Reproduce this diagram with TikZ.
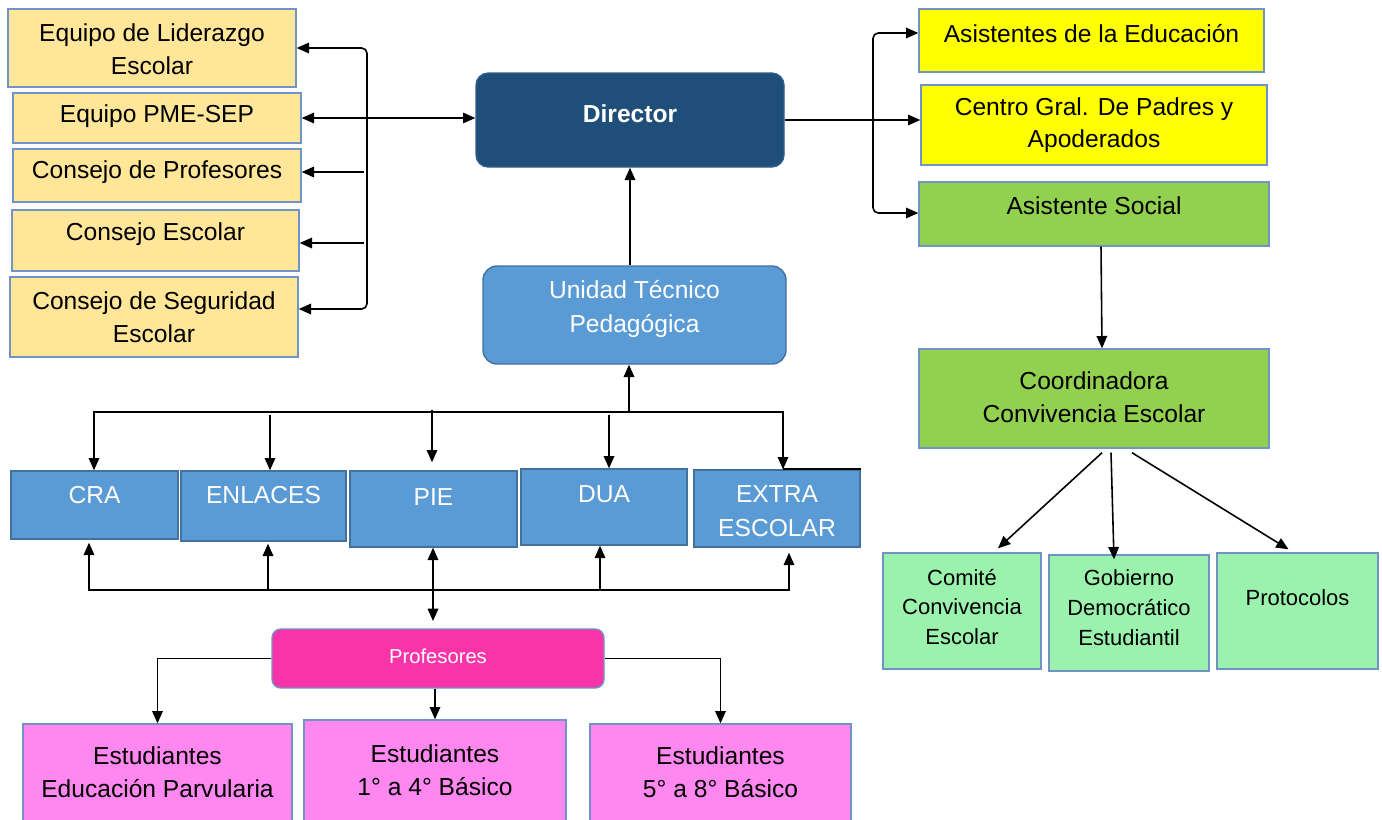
\documentclass[tikz,border=0pt]{standalone}
\usepackage{fontspec}
\setmainfont{Liberation Sans}
\usetikzlibrary{arrows.meta,calc}
\definecolor{lorange}{HTML}{FFE699}
\definecolor{bord}{HTML}{7193C6}
\definecolor{dirblue}{HTML}{1F4E79}
\definecolor{dirbord}{HTML}{2E5E8E}
\definecolor{midblue}{HTML}{5B9BD5}
\definecolor{midbord}{HTML}{41719C}
\definecolor{yel}{HTML}{FFFF00}
\definecolor{grn}{HTML}{92D050}
\definecolor{lgrn}{HTML}{9AF2AD}
\definecolor{profpink}{HTML}{F834A8}
\definecolor{estpink}{HTML}{FF88F0}
\newcommand\orgbox[8]{%
  \node[#1, minimum width={(#5-#3)*0.02cm}, minimum height={(#6-#4)*0.02cm}] (#2) at ({(#3+#5)/2},{(#4+#6)/2}) {};
  \node[#1 txt] (#2t) at ({(#3+#5)/2},#7) {#8};
}
\begin{document}
\begin{tikzpicture}[x=0.02cm,y=-0.02cm,
  base/.style={inner sep=0pt, line width=0.8pt},
  basetxt/.style={inner sep=0pt, align=center, font=\fontsize{14}{18.5}\selectfont},
  lbox/.style={base, fill=lorange, draw=bord},
  lbox txt/.style={basetxt},
  dbox/.style={base, fill=dirblue, draw=dirbord, rounded corners=7pt},
  dbox txt/.style={basetxt, text=white, font=\fontsize{14}{18.5}\selectfont\bfseries},
  ubox/.style={base, fill=midblue, draw=midbord, rounded corners=8pt},
  ubox txt/.style={basetxt, text=white, font=\fontsize{14}{19.5}\selectfont},
  rbox/.style={base, fill=midblue, draw=midbord},
  rbox txt/.style={basetxt, text=white, font=\fontsize{14}{19.5}\selectfont},
  ybox/.style={base, fill=yel, draw=bord},
  ybox txt/.style={basetxt},
  gbox/.style={base, fill=grn, draw=bord},
  gbox txt/.style={basetxt},
  lgbox/.style={base, fill=lgrn, draw=bord},
  lgbox txt/.style={basetxt, font=\fontsize{12.5}{17}\selectfont},
  pbox/.style={base, fill=profpink, draw=bord, rounded corners=5pt},
  pbox txt/.style={basetxt, text=white, font=\fontsize{11.5}{14}\selectfont},
  ebox/.style={base, fill=estpink, draw=bord},
  ebox txt/.style={basetxt},
  conn/.style={line width=0.9pt, draw=black},
  arr/.style={conn, -{Triangle[length=7pt,width=6pt]}},
  darr/.style={conn, {Triangle[length=7pt,width=6pt]}-{Triangle[length=7pt,width=6pt]}}
]
\useasboundingbox (0,0) rectangle (1382,819);
% left column
\orgbox{lbox}{lid}{8}{9}{296}{87}{49}{Equipo de Liderazgo\\Escolar}
\orgbox{lbox}{pme}{13}{93}{301}{143}{116}{Equipo PME-SEP}
\orgbox{lbox}{prof}{13}{149}{301}{202}{172}{Consejo de Profesores}
\orgbox{lbox}{cesc}{12}{210}{299}{271}{234}{Consejo Escolar}
\orgbox{lbox}{cseg}{10}{277}{298}{357}{317}{Consejo de Seguridad\\Escolar}
% centre
\orgbox{dbox}{dir}{476}{73}{784}{167}{114}{Director}
\orgbox{ubox}{utp}{483}{266}{786}{364}{309}{Unidad Técnico\\Pedagógica}
% right column
\orgbox{ybox}{ase}{919}{9}{1264}{72}{34}{Asistentes de la Educación}
\orgbox{ybox}{cgp}{921}{85}{1267}{165}{125}{Centro Gral. De Padres y\\Apoderados}
\orgbox{gbox}{asoc}{919}{182}{1269}{246}{206}{Asistente Social}
\orgbox{gbox}{coord}{919}{349}{1269}{448}{397}{Coordinadora\\Convivencia Escolar}
\orgbox{lgbox}{comite}{883}{553}{1041}{669}{607}{Comité\\Convivencia\\Escolar}
\orgbox{lgbox}{gob}{1049}{555}{1209}{671}{608}{Gobierno\\Democrático\\Estudiantil}
\orgbox{lgbox}{proto}{1217}{553}{1378}{669}{598}{Protocolos}
% row
\orgbox{rbox}{cra}{11}{471}{178}{539}{495}{CRA}
\orgbox{rbox}{enl}{181}{471}{346}{541}{495}{ENLACES}
\orgbox{rbox}{pie}{350}{471}{517}{547}{497}{PIE}
\orgbox{rbox}{dua}{521}{469}{687}{545}{494}{DUA}
\orgbox{rbox}{extra}{694}{470}{860}{547}{511}{EXTRA\\ESCOLAR}
% bottom
\orgbox{pbox}{profs}{272}{629}{604}{688}{656}{Profesores}
\orgbox{ebox}{est1}{23}{724}{292}{822}{772}{Estudiantes\\Educación Parvularia}
\orgbox{ebox}{est2}{304}{720}{566}{822}{770}{Estudiantes\\1° a 4° Básico}
\orgbox{ebox}{est3}{590}{724}{851}{822}{772}{Estudiantes\\5° a 8° Básico}

% left bracket
\coordinate (lbT) at (367,48);
\coordinate (lbB) at (367,309);
\draw[darr, rounded corners=3pt] (lid.east |- lbT) -- (lbT) -- (lbB) -- (cseg.east |- lbB);
\draw[darr] (pme.east) -- (pme.east -| dir.west);
\coordinate (cpA) at (364,172);
\draw[arr] (cpA) -- (cpA -| prof.east);
\coordinate (ceA) at (364,243);
\draw[arr] (ceA) -- (ceA -| cesc.east);

% right bracket
\draw[arr] (dir.east) -- (dir.east -| cgp.west);
\coordinate (rbT) at (873,33);
\coordinate (rbB) at (873,213);
\draw[darr, rounded corners=3pt] (rbT -| ase.west) -- (rbT) -- (rbB) -- (rbB -| asoc.west);
\draw[arr] ($(asoc.south)+(7,0)$) -- ($(coord.north)+(8,0)$);
\draw[arr] ($(coord.south)+(8,4)$) -- ($(comite.north)+(36,-4)$);
\draw[arr] ($(coord.south)+(17,4)$) -- ($(gob.north)+(-15,5)$);
\draw[arr] ($(coord.south)+(38,4)$) -- ($(proto.north)+(-9,-3)$);

% UTP and director
\draw[arr] (utp.north -| dir.south) -- (dir.south);

% top bus
\coordinate (tbL) at (94,412);
\coordinate (tbR) at (783,412);
\coordinate (tbM) at (629,412);
\draw[arr] (tbM) -- (tbM |- utp.south);
\draw[darr] (tbL |- cra.north) -- (tbL) -- (tbR) -- (tbR |- extra.north);
\coordinate (enA) at (270,415);
\draw[arr] (enA) -- (enA |- enl.north);
\coordinate (piA) at (432,410);
\draw[arr] (piA) -- ($(piA |- pie.north)+(0,-8)$);
\coordinate (duA) at (609,415);
\draw[arr] (duA) -- (duA |- dua.north);
\draw[conn, line width=1.2pt] (tbR |- extra.north) -- (extra.north east);

% bottom bus
\coordinate (bbL) at (89,590);
\coordinate (bbR) at (789,590);
\draw[darr] ($(bbL |- cra.south)+(0,3)$) -- (bbL) -- (bbR) -- ($(bbR |- extra.south)+(0,5)$);
\coordinate (enB) at (268,590);
\draw[arr] (enB) -- ($(enB |- enl.south)+(0,2)$);
\coordinate (duB) at (600,590);
\draw[arr] (duB) -- (duB |- dua.south);
\coordinate (piC) at (433,621);
\draw[darr] (piC |- pie.south) -- (piC);

% profesores
\draw[arr] (profs.west) -| (est1.north);
\draw[arr] (profs.east) -| (est3.north);
\draw[arr] (profs.south -| est2.north) -- (est2.north);
\end{tikzpicture}
\end{document}
